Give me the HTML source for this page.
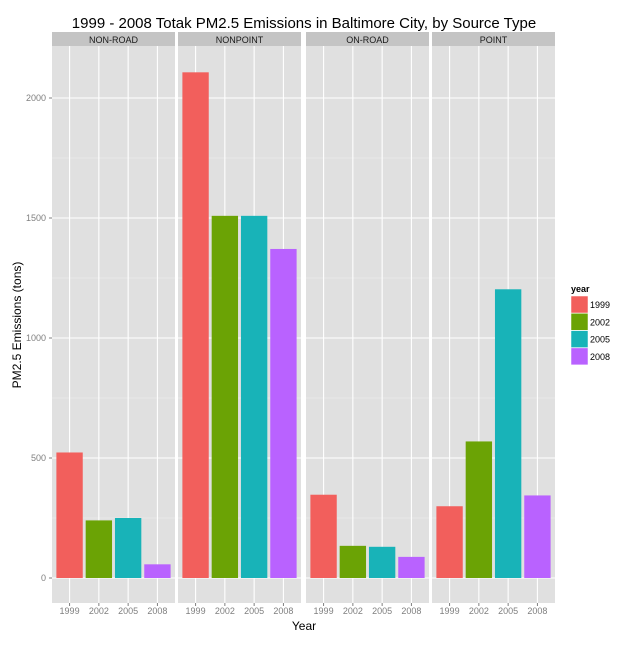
<!DOCTYPE html>
<html><head><meta charset="utf-8"><style>
body{margin:0;background:#fff;font-family:"Liberation Sans",sans-serif}
</style></head><body>
<svg id="chart" width="640" height="640" xmlns="http://www.w3.org/2000/svg" font-family="Liberation Sans, sans-serif"></svg>
<script>
const facets = ["NON-ROAD","NONPOINT","ON-ROAD","POINT"];
const years = ["1999","2002","2005","2008"];
const nonRoad = [523, 240, 250, 57];
const nonPoint = [2107, 1509, 1509, 1371];
const onRoad = [347, 134, 130, 88];
const point = [299, 569, 1203, 344];
const seriesByFacet = [nonRoad, nonPoint, onRoad, point];
const yTicks = [0, 500, 1000, 1500, 2000];
const yMinor = [250, 750, 1250, 1750];
const colors = ["#F8766D","#7CAE00","#00BFC4","#C77CFF"];
const fillColors = ["#F25F5C","#6BA305","#18B3B8","#B962FF"];

const svg = document.getElementById('chart');
const NS = "http://www.w3.org/2000/svg";
function mk(tag, attrs, parent){const e=document.createElementNS(NS,tag);for(const k in attrs)e.setAttribute(k,attrs[k]);(parent||svg).appendChild(e);return e;}

const plotTop=46, plotBottom=603;
const y0=578, pxPerTon=0.24;
function yScale(v){return y0 - v*pxPerTon;}
const panelX=[52,178,306,432], panelW=123;
function xScale(p,i){return panelX[p] + panelW*((i+1)-0.4)/4.2;}
const barW = panelW*0.9/4.2;

// title
let t=mk('text',{x:304,y:28,'text-anchor':'middle','font-size':15,fill:'#000'});
t.textContent="1999 - 2008 Totak PM2.5 Emissions in Baltimore City, by Source Type";



facets.forEach((f,p)=>{
  const g=mk('g',{});
  
  
  mk('rect',{x:panelX[p],y:32,width:panelW,height:14,fill:'#C4C4C4'},g);
  const st=mk('text',{x:panelX[p]+panelW/2,y:43,'text-anchor':'middle','font-size':9,fill:'#1a1a1a'},g);
  st.textContent=f;
  
  
  mk('rect',{x:panelX[p],y:plotTop,width:panelW,height:plotBottom-plotTop,fill:'#E0E0E0'},g);
  yMinor.forEach(v=>mk('line',{x1:panelX[p],x2:panelX[p]+panelW,y1:yScale(v),y2:yScale(v),stroke:'#EFEFEF','stroke-width':0.6},g));
  yTicks.forEach(v=>mk('line',{x1:panelX[p],x2:panelX[p]+panelW,y1:yScale(v),y2:yScale(v),stroke:'#fff','stroke-width':1.1},g));
  years.forEach((yr,i)=>{
    const cx=xScale(p,i);
    mk('line',{x1:cx,x2:cx,y1:plotTop,y2:plotBottom,stroke:'#fff','stroke-width':1.1},g);
  });
  seriesByFacet[p].forEach((v,i)=>{
    const cx=xScale(p,i);
    const b=mk('rect',{x:cx-barW/2,y:yScale(v),width:barW,height:y0-yScale(v),fill:fillColors[i]},g);
    
    
  });
  years.forEach((yr,i)=>{
    const cx=xScale(p,i);
    mk('line',{x1:cx,x2:cx,y1:plotBottom,y2:plotBottom+3,stroke:'#7f7f7f'},g);
    const tl=mk('text',{x:cx,y:614,'text-anchor':'middle','font-size':9,fill:'#7f7f7f'},g);
    tl.textContent=yr;
    
    
  });
});

yTicks.forEach(v=>{
  mk('line',{x1:49,x2:52,y1:yScale(v),y2:yScale(v),stroke:'#7f7f7f'});
  const tl=mk('text',{x:46,y:yScale(v)+3,'text-anchor':'end','font-size':9,fill:'#7f7f7f'});
  tl.textContent=v;
  
  
});

let xt=mk('text',{x:304,y:630,'text-anchor':'middle','font-size':12,fill:'#000'});
xt.textContent="Year";


let yt=mk('text',{x:0,y:0,'text-anchor':'middle','font-size':12,fill:'#000',transform:'translate(21,325) rotate(-90)'});
yt.textContent="PM2.5 Emissions (tons)";



const lg=mk('g',{});


let lt=mk('text',{x:571,y:292,'font-size':9,'font-weight':'bold',fill:'#000'},lg);
lt.textContent="year";
years.forEach((yr,i)=>{
  const ky=296+i*17.3;
  const k=mk('rect',{x:571,y:ky,width:17,height:17,fill:fillColors[i],stroke:'#fff','stroke-width':0.5},lg);
  
  
  const tx=mk('text',{x:590,y:ky+12,'font-size':9,fill:'#000'},lg);
  tx.textContent=yr;
  
  
});
</script>
</body></html>
